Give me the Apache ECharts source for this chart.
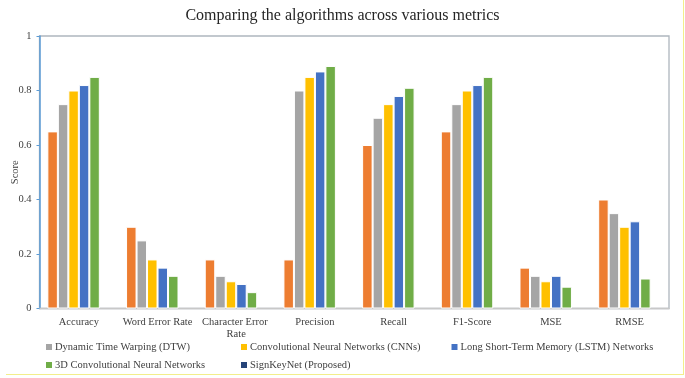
<!DOCTYPE html>
<html>
<head>
<meta charset="utf-8">
<script src="https://cdn.jsdelivr.net/npm/echarts@6/dist/echarts.min.js"></script>
<style>
html,body{margin:0;padding:0;background:#fff;}
#chart{width:685px;height:378px;}
</style>
</head>
<body>
<div id="chart"></div>
<script>
var categories = ['Accuracy', 'Word Error Rate', 'Character Error Rate', 'Precision', 'Recall', 'F1-Score', 'MSE', 'RMSE'];
var seriesNames = ['Series1', 'Dynamic Time Warping (DTW)', 'Convolutional Neural Networks (CNNs)', 'Long Short-Term Memory (LSTM) Networks', '3D Convolutional Neural Networks', 'SignKeyNet (Proposed)'];
var series1 = [0.65, 0.30, 0.18, 0.18, 0.60, 0.65, 0.15, 0.40];
var dtw = [0.75, 0.25, 0.12, 0.80, 0.70, 0.75, 0.12, 0.35];
var cnns = [0.80, 0.18, 0.10, 0.85, 0.75, 0.80, 0.10, 0.30];
var lstm = [0.82, 0.15, 0.09, 0.87, 0.78, 0.82, 0.12, 0.32];
var cnn3d = [0.85, 0.12, 0.06, 0.89, 0.81, 0.85, 0.08, 0.11];
var signKeyNet = [null, null, null, null, null, null, null, null];
var yTicks = [0, 0.2, 0.4, 0.6, 0.8, 1];

var colors = ['#ED7D31', '#A5A5A5', '#FFC000', '#4472C4', '#70AD47', '#264478'];
var seriesData = [series1, dtw, cnns, lstm, cnn3d, signKeyNet];
var font = '"Liberation Serif", "Times New Roman", serif';

var chart = echarts.init(document.getElementById('chart'), null, {renderer: 'canvas'});

function legendFor(name, left, top) {
  return {
    data: [name],
    left: left,
    top: top,
    padding: 0,
    icon: 'rect',
    itemWidth: 6,
    itemHeight: 6,
    itemGap: 0,
    selectedMode: false,
    itemStyle: {borderWidth: 0},
    textStyle: {fontFamily: font, fontSize: 10.5, color: '#404040', padding: [0, 0, 0, -2]}
  };
}

var option = {
  animation: false,
  backgroundColor: '#fff',
  color: colors,
  title: {
    text: 'Comparing the algorithms across various metrics',
    left: 'center',
    top: 3,
    textStyle: {fontFamily: font, fontSize: 16, fontWeight: 'normal', color: '#262626'}
  },
  legend: [
    legendFor(seriesNames[1], 46, 341.5),
    legendFor(seriesNames[2], 241, 341.5),
    legendFor(seriesNames[3], 451.5, 341.5),
    legendFor(seriesNames[4], 46, 359.5),
    legendFor(seriesNames[5], 241, 359.5)
  ],
  grid: {
    left: 39.5,
    right: 16,
    top: 36,
    bottom: 69.5,
    show: true,
    borderColor: '#AEB6BE',
    borderWidth: 1.3,
    containLabel: false,
    outerBoundsMode: 'none'
  },
  xAxis: {
    type: 'category',
    data: categories,
    axisLine: {lineStyle: {color: '#C8C8C8', width: 1.3}},
    axisTick: {show: false},
    axisLabel: {
      interval: 0,
      margin: 8,
      fontFamily: font,
      fontSize: 10.5,
      color: '#404040',
      width: 76,
      overflow: 'break',
      lineHeight: 12
    }
  },
  yAxis: {
    type: 'value',
    min: 0,
    max: 1,
    interval: 0.2,
    name: 'Score',
    nameLocation: 'middle',
    nameRotate: 90,
    nameGap: 19,
    nameMoveOverlap: false,
    nameTextStyle: {fontFamily: font, fontSize: 10.5, color: '#404040'},
    axisLine: {show: true, lineStyle: {color: '#5B9BD5', width: 1.5}},
    axisTick: {show: true, length: 3, lineStyle: {color: '#5B9BD5'}},
    splitLine: {show: false},
    axisLabel: {
      margin: 8,
      fontFamily: font,
      fontSize: 10.5,
      color: '#404040',
      formatter: function (v) {
        for (var i = 0; i < yTicks.length; i++) {
          if (Math.abs(yTicks[i] - v) < 1e-9) return String(yTicks[i]);
        }
        return '';
      }
    }
  },
  series: seriesData.map(function (d, i) {
    return {
      name: seriesNames[i],
      type: 'bar',
      data: d,
      barGap: '0%',
      barCategoryGap: '20%',
      itemStyle: {color: colors[i], borderColor: '#ffffff', borderWidth: 1}
    };
  }),
  graphic: [
    {type: 'line', shape: {x1: 683.5, y1: 0, x2: 683.5, y2: 374}, style: {stroke: '#F3EE8A', lineWidth: 1}, silent: true},
    {type: 'line', shape: {x1: 6, y1: 374.5, x2: 684, y2: 374.5}, style: {stroke: '#F3EE8A', lineWidth: 1}, silent: true}
  ]
};

chart.setOption(option);
</script>
</body>
</html>
